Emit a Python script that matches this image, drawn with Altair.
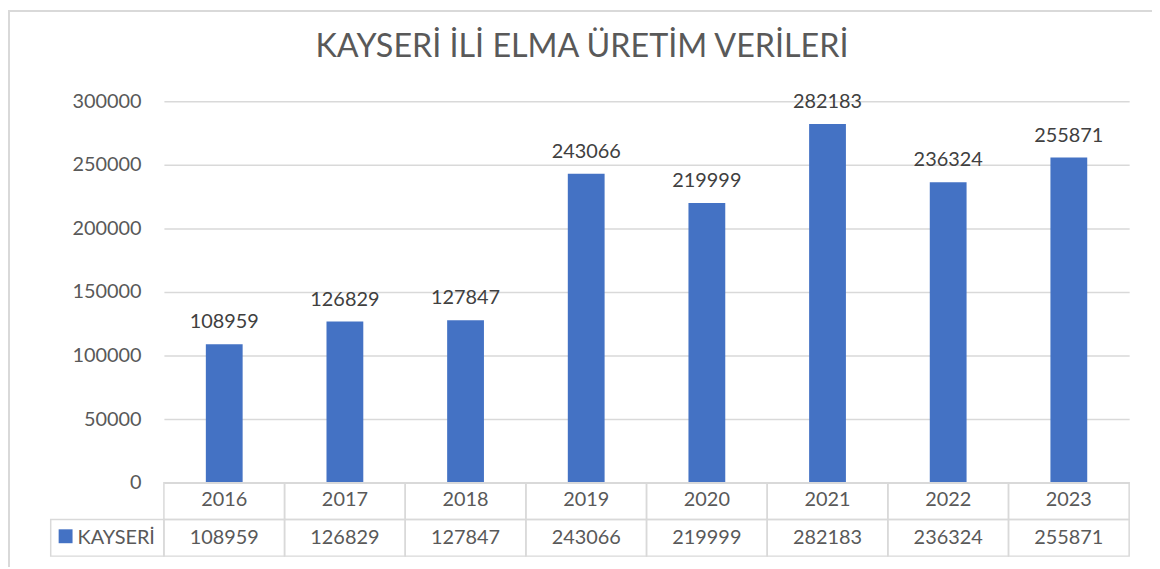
import altair as alt
import pandas as pd

years = ["2016", "2017", "2018", "2019", "2020", "2021", "2022", "2023"]
values = [108959, 126829, 127847, 243066, 219999, 282183, 236324, 255871]
series_name = "KAYSERİ"
title_text = "KAYSERİ İLİ ELMA ÜRETİM VERİLERİ"
y_ticks = [0, 50000, 100000, 150000, 200000, 250000, 300000]

df = pd.DataFrame({"year": years, "value": values})
legend_df = pd.DataFrame({"series": [series_name], "title": [title_text]})

W, H = 972, 384
ROW_MID, ROW_BOTTOM = 421, 458
HEADER_Y, VALUE_Y = 402, 439.5

FONT = "Lato"
TEXT = "#595959"
GRID = "#d9d9d9"
BAR = "#4472C4"

x = alt.X("year:N", sort=years, axis=None,
          scale=alt.Scale(paddingInner=0, paddingOuter=0))
y = alt.Y("value:Q", scale=alt.Scale(domain=[0, 300000], nice=False),
          axis=alt.Axis(values=y_ticks, format="d", title=None, domain=False,
                        ticks=False, grid=True, gridColor=GRID, gridWidth=1.5,
                        labelFont=FONT, labelFontSize=20, labelColor=TEXT,
                        labelPadding=23))

base = alt.Chart(df)

bars = base.mark_bar(color=BAR, width=alt.RelativeBandSize(0.305)).encode(x=x, y=y)

bar_labels = base.mark_text(font=FONT, fontSize=20, color="#404040",
                            baseline="alphabetic", dy=-16).encode(
    x=x, y=y, text=alt.Text("value:Q", format="d"))

header_cells = base.mark_rect(fill="transparent", stroke=GRID, strokeWidth=1.5).encode(
    x=x, y=alt.value(H), y2=alt.value(ROW_MID))
value_cells = base.mark_rect(fill="transparent", stroke=GRID, strokeWidth=1.5).encode(
    x=x, y=alt.value(ROW_MID), y2=alt.value(ROW_BOTTOM))

header_text = base.mark_text(font=FONT, fontSize=20, color=TEXT, baseline="middle").encode(
    x=x, y=alt.value(HEADER_Y), text="year:N")
value_text = base.mark_text(font=FONT, fontSize=20, color=TEXT, baseline="middle").encode(
    x=x, y=alt.value(VALUE_Y), text=alt.Text("value:Q", format="d"))

lbase = alt.Chart(legend_df)
legend_cell = lbase.mark_rect(fill="transparent", stroke=GRID, strokeWidth=1.5).encode(
    x=alt.value(-114), x2=alt.value(0), y=alt.value(ROW_MID), y2=alt.value(ROW_BOTTOM))
legend_square = lbase.mark_square(size=196, color=BAR, opacity=1).encode(
    x=alt.value(-99), y=alt.value(438))
legend_label = lbase.mark_text(font=FONT, fontSize=20, color=TEXT, align="left",
                               baseline="middle").encode(
    x=alt.value(-87), y=alt.value(VALUE_Y), text="series:N")

title_mark = lbase.mark_text(font=FONT, fontSize=32.5, color=TEXT, align="center",
                             baseline="middle").encode(
    x=alt.value(421), y=alt.value(-55), text="title:N")

frame_left = lbase.mark_rule(color=GRID, strokeWidth=2).encode(
    x=alt.value(-156), y=alt.value(-92), y2=alt.value(H + 85))
frame_top = lbase.mark_rule(color=GRID, strokeWidth=2).encode(
    x=alt.value(-157), x2=alt.value(W + 23), y=alt.value(-91))

chart = alt.layer(
    frame_left, frame_top, title_mark,
    bars, bar_labels,
    header_cells, value_cells, header_text, value_text,
    legend_cell, legend_square, legend_label,
).properties(
    width=W, height=H,
    autosize=alt.AutoSizeParams(type="none"),
    padding={"left": 157, "top": 92, "right": 23, "bottom": 85},
).configure_view(stroke=None)

chart.save("out.html", embed_options={"renderer": "svg", "actions": False})
